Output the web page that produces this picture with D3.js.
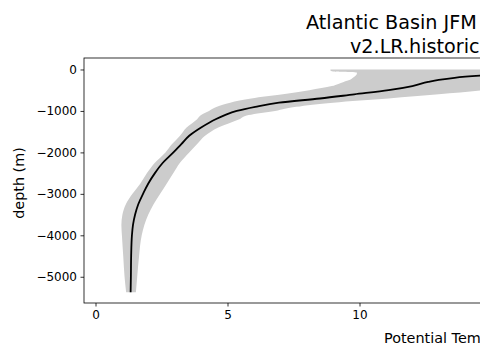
<!DOCTYPE html>
<html>
<head>
<meta charset="utf-8">
<script src="https://cdn.jsdelivr.net/npm/d3@7"></script>
<style>
  html, body { margin: 0; padding: 0; background: #fff; }
  svg { display: block; }
  text { font-family: "DejaVu Sans", sans-serif; fill: #000; }
</style>
</head>
<body>
<svg id="chart" width="480" height="360"></svg>
<script>
// ---- data ----
const depth = [0, -25, -50, -75, -100, -150, -200, -250, -300, -400, -500, -600, -700, -800, -900, -1000,
  -1100, -1200, -1400, -1600, -1800, -2000, -2250, -2500, -2750, -3000, -3250, -3500, -3750, -4000,
  -4500, -5000, -5375];
const tempMean = [18.2, 17.8, 17.0, 16.4, 15.8, 14.56, 13.6, 13.0, 12.6, 12.0, 11.1, 9.8, 8.5, 6.95, 6.05, 5.35,
  4.9, 4.55, 4.0, 3.55, 3.25, 2.95, 2.55, 2.25, 2.0, 1.8, 1.62, 1.5, 1.42, 1.38,
  1.35, 1.34, 1.33];
const tempLow = [8.9, 8.9, 9.0, 9.9, 9.9, 9.85, 9.75, 9.64, 9.4, 8.95, 8.1, 7.1, 5.9, 5.1, 4.6, 4.3,
  4.0, 3.85, 3.45, 3.2, 2.9, 2.65, 2.25, 1.95, 1.7, 1.4, 1.15, 1.02, 0.98, 1.0,
  1.05, 1.1, 1.16];
const tempHigh = [28.5, 27.5, 26.0, 24.5, 23.0, 21.0, 19.5, 18.5, 17.5, 16.0, 14.7, 13.0, 11.1, 9.0, 7.6, 6.8,
  5.8, 5.45, 4.65, 4.15, 3.85, 3.55, 3.2, 2.95, 2.7, 2.45, 2.2, 2.0, 1.85, 1.75,
  1.65, 1.58, 1.53];
const xTicks = [0, 5, 10];
const yTicks = [0, -1000, -2000, -3000, -4000, -5000];
const titleLines = ["Atlantic Basin JFM Climatology", "v2.LR.historical_0101"];
const xLabel = "Potential Temperature (\u00B0C)";
const yLabel = "depth (m)";

// ---- layout ----
const padL = 84, padT = 58, padB = 303;
const pxPerDeg = 26.4;
const xDomain = [-0.436, 29.9];
const yDomain = [-5633, 277];

const svg = d3.select("#chart");
const x = d3.scaleLinear().domain(xDomain).range([padL, padL + pxPerDeg * (xDomain[1] - xDomain[0])]);
const y = d3.scaleLinear().domain(yDomain).range([padB, padT]);
const padR = x.range()[1];

const rows = depth.map((d, i) => ({ d, m: tempMean[i], lo: tempLow[i], hi: tempHigh[i] }));

svg.append("clipPath").attr("id", "clip")
  .append("rect").attr("x", padL).attr("y", padT).attr("width", padR - padL).attr("height", padB - padT);

const g = svg.append("g").attr("clip-path", "url(#clip)");

g.append("path")
  .datum(rows)
  .attr("fill", "#cccccc")
  .attr("stroke", "none")
  .attr("d", d3.area().curve(d3.curveMonotoneY).y(r => y(r.d)).x0(r => x(r.lo)).x1(r => x(r.hi)));

g.append("path")
  .datum(rows)
  .attr("fill", "none")
  .attr("stroke", "#000")
  .attr("stroke-width", 1.8)
  .attr("stroke-linejoin", "round")
  .attr("d", d3.line().curve(d3.curveMonotoneY).y(r => y(r.d)).x(r => x(r.m)));

const fmt = v => (v < 0 ? "\u2212" + Math.abs(v) : String(v));

// axes
const xAxis = d3.axisBottom(x).tickValues(xTicks).tickSize(3.5).tickPadding(3.5).tickFormat(fmt);
const yAxis = d3.axisLeft(y).tickValues(yTicks).tickSize(3.5).tickPadding(3.5).tickFormat(fmt);

const gx = svg.append("g").attr("transform", `translate(0,${padB})`).call(xAxis);
const gy = svg.append("g").attr("transform", `translate(${padL},0)`).call(yAxis);
[gx, gy].forEach(a => {
  a.select(".domain").remove();
  a.selectAll(".tick line").attr("stroke", "#000").attr("stroke-width", 0.8);
  a.selectAll(".tick text").attr("font-family", "DejaVu Sans").attr("font-size", 12).attr("fill", "#000");
});

// spines
svg.append("rect")
  .attr("x", padL).attr("y", padT).attr("width", padR - padL).attr("height", padB - padT)
  .attr("fill", "none").attr("stroke", "#000").attr("stroke-width", 0.8);

// title
svg.append("text").attr("x", 306).attr("y", 28.5).attr("font-size", 19.2).text(titleLines[0]);
svg.append("text").attr("x", 350).attr("y", 52.5).attr("font-size", 19.2).text(titleLines[1]);

// axis labels
svg.append("text").attr("x", 384).attr("y", 342.5).attr("font-size", 14.4).text(xLabel);
svg.append("text")
  .attr("transform", `translate(24.2,183) rotate(-90)`)
  .attr("text-anchor", "middle").attr("font-size", 14.4).text(yLabel);
</script>
</body>
</html>
